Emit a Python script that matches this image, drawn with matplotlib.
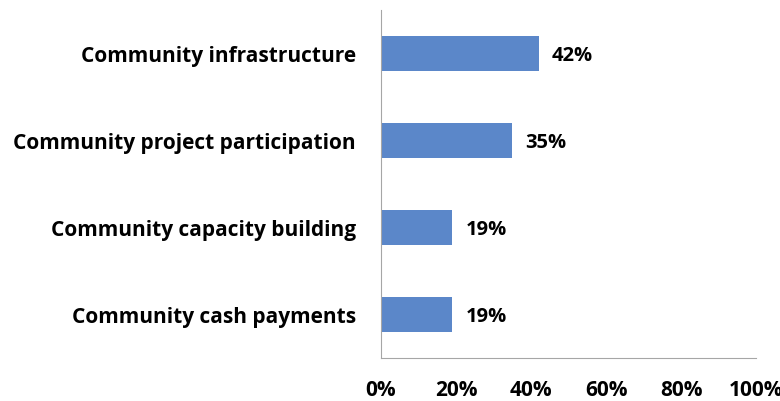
import matplotlib.pyplot as plt
from matplotlib.ticker import FuncFormatter

categories = ['Community infrastructure', 'Community project participation',
              'Community capacity building', 'Community cash payments']
values = [42, 35, 19, 19]
xticks = [0, 20, 40, 60, 80, 100]

plt.rcParams['font.family'] = ['Open Sans', 'DejaVu Sans']
plt.rcParams['font.weight'] = 'bold'

fig = plt.figure(figsize=(7.8, 4.01), dpi=100)
ax = fig.add_axes([0.4885, 0.107, 0.481, 0.868])

pos = list(range(len(categories)))
ax.barh(pos, values, height=0.4, color='#5B87C9')
for p, v in zip(pos, values):
    ax.text(v + 3.5, p, '%d%%' % v, va='center_baseline', ha='left',
            fontsize=14.5, fontweight='bold')

ax.set_ylim(len(categories) - 0.5, -0.5)
ax.set_xlim(0, 100)
ax.set_yticks(pos)
ax.set_yticklabels(categories, fontsize=15, fontweight='bold', va='center_baseline')
ax.set_xticks(xticks)
ax.xaxis.set_major_formatter(FuncFormatter(lambda x, _: '%d%%' % x))
for lab in ax.get_xticklabels():
    lab.set_fontsize(15)
    lab.set_fontweight('bold')
ax.tick_params(axis='both', length=0)
ax.tick_params(axis='x', pad=16)
ax.tick_params(axis='y', pad=18)

ax.spines['top'].set_visible(False)
ax.spines['right'].set_visible(False)
ax.spines['left'].set_color('#A6A6A6')
ax.spines['bottom'].set_color('#A6A6A6')

fig.savefig('out.png', dpi=100)
